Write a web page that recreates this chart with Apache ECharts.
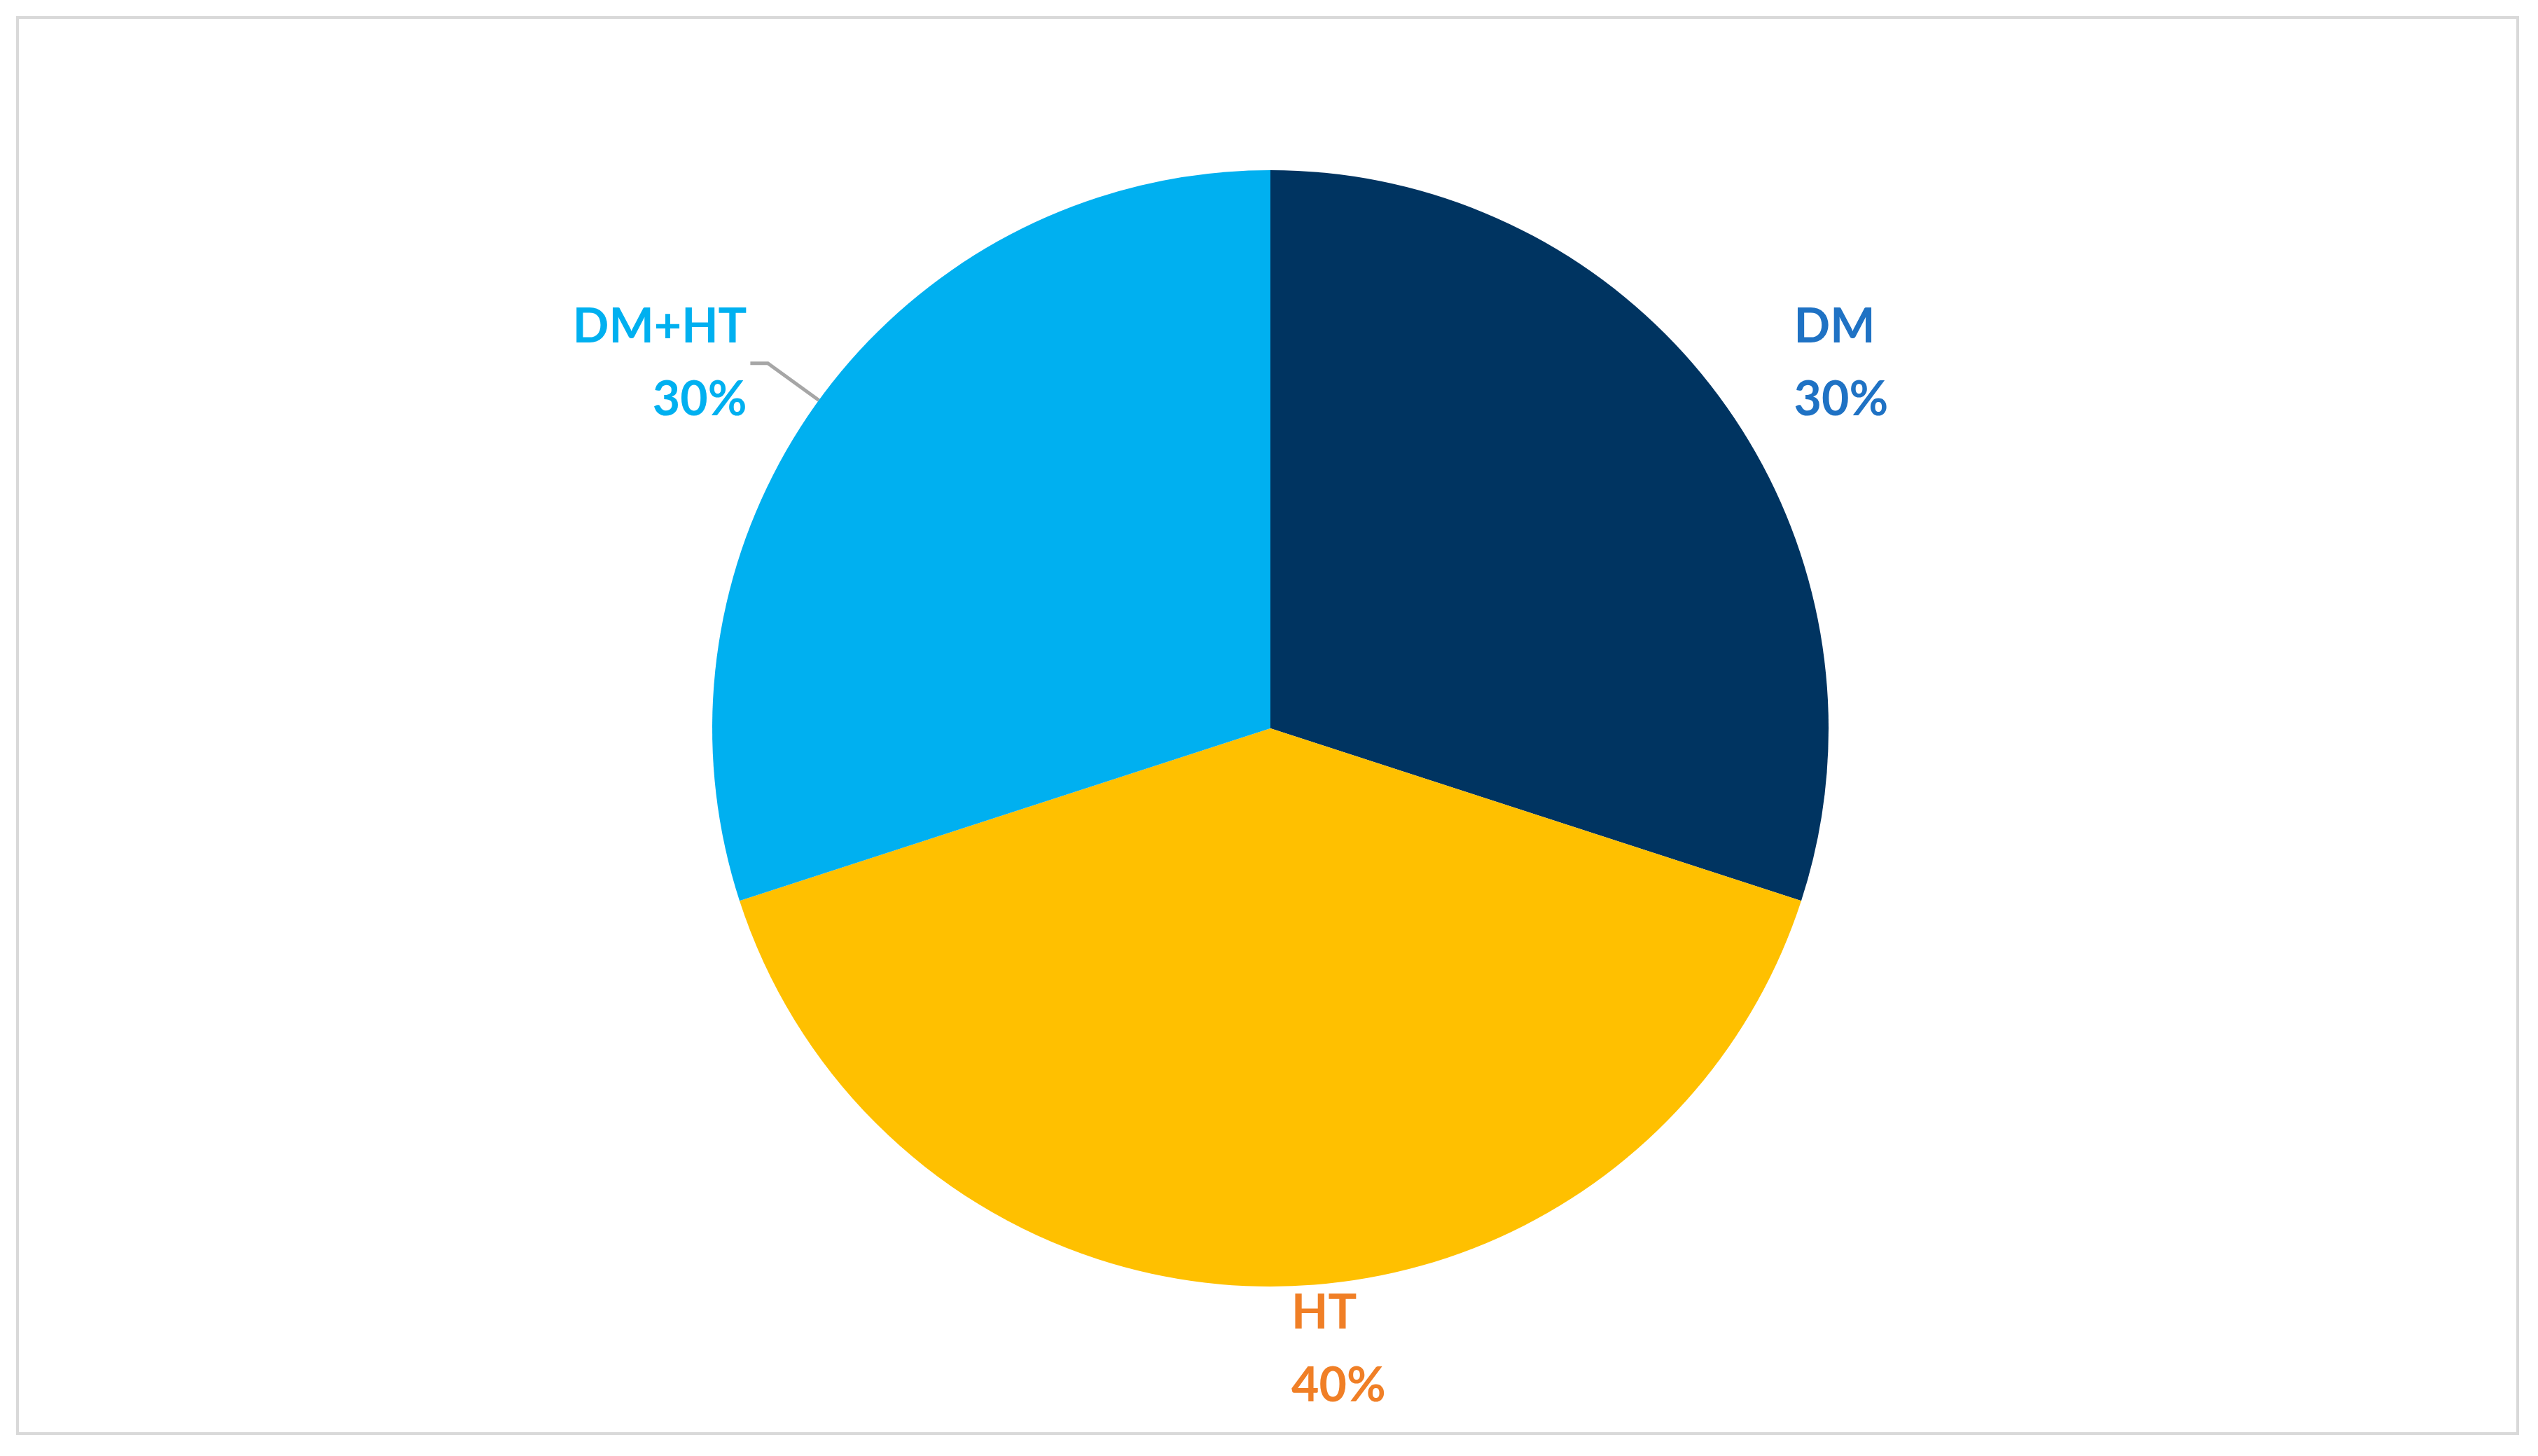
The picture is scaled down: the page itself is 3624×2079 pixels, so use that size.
<!DOCTYPE html>
<html>
<head>
<meta charset="utf-8">
<script src="https://cdn.jsdelivr.net/npm/echarts@6/dist/echarts.min.js"></script>
<style>
html,body{margin:0;padding:0;background:#fff;}
#frame{position:absolute;left:23px;top:23px;width:3574px;height:2026px;border:4px solid #d9d9d9;box-sizing:border-box;}
#echartsPie{position:absolute;left:0;top:0;width:3624px;height:2079px;}
</style>
</head>
<body>
<div id="frame"></div>
<div id="echartsPie"></div>
<script>
var categories = ['DM', 'HT', 'DM+HT'];
var values = [30, 40, 30];
var sliceColors = ['#003461', '#FFC000', '#00B0F0'];
var labelColors = ['#1F72C4', '#F07F26', '#00B0F0'];

function echartsPie(){
	var pieData = [];
	for (var i = 0; i < categories.length; i++) {
		pieData.push({
			name: categories[i],
			value: values[i],
			itemStyle: {color: sliceColors[i]},
			label: {color: labelColors[i]},
			labelLine: {show: categories[i] == 'DM+HT'}
		});
	}
	var option = {
		animation: false,
		series: [{
			type: 'pie',
			radius: 797,
			center: [1814, 1040],
			startAngle: 90,
			clockwise: true,
			data: pieData,
			itemStyle: {borderColor: '#fff', borderWidth: 0},
			label: {
				show: true,
				position: 'outside',
				formatter: '{b}\n{d}%',
				fontFamily: 'Lato',
				fontWeight: 'bold',
				fontSize: 68,
				lineHeight: 104,
				align: 'center'
			},
			labelLine: {
				show: true,
				length: 90,
				length2: 25,
				smooth: false,
				lineStyle: {color: '#a6a6a6', width: 5}
			}
		}]
	};
	var chart = echarts.init(document.getElementById('echartsPie'));
	chart.setOption(option);
}
echartsPie();
</script>
</body>
</html>
